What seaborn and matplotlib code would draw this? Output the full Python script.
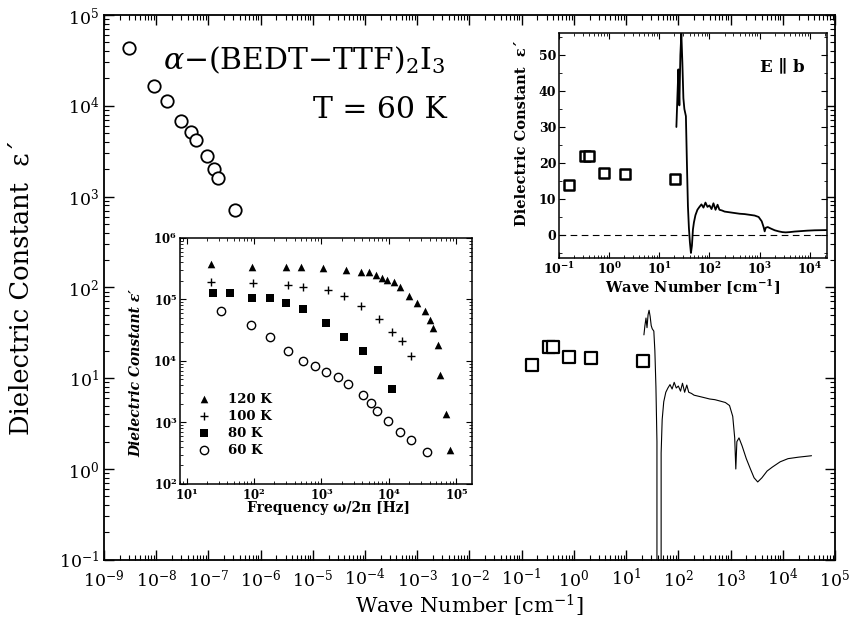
import numpy as np
import seaborn as sns
import matplotlib
matplotlib.use("Agg")
import matplotlib.pyplot as plt
from matplotlib.ticker import LogLocator, FuncFormatter, NullFormatter, MultipleLocator

#%% data
# main panel, T = 60 K: low-frequency data converted to wave number (open circles)
lowf_wn = [3.0e-9, 8.9e-9, 1.6e-8, 2.95e-8, 4.6e-8, 5.9e-8, 9.3e-8, 1.26e-7, 1.55e-7, 3.2e-7]
lowf_eps = [4.3e4, 1.66e4, 1.12e4, 6.8e3, 5.1e3, 4.2e3, 2.8e3, 2.0e3, 1.6e3, 710]

# millimetre / far-IR points (open squares)
mw_wn = [0.155, 0.33, 0.40, 0.79, 2.1, 21.0]
mw_eps = [14.0, 21.8, 21.8, 17.2, 16.9, 15.6]

# infrared spectrum (E || b)
ir_wn = [21.9, 22.9, 24.0, 25.1, 26.3, 27.5, 28.8, 30.2, 31.6, 33.9, 35.5, 37.2,
         38.9, 40.7, 42.7, 44.7, 46.8, 49.0, 52.5, 57.5, 63.1, 69.2, 75.9, 83.2,
         91.2, 100, 110, 120, 132, 145, 158, 178, 200, 251, 316, 398, 501, 631,
         794, 955, 1100, 1200, 1260, 1320, 1450, 1660, 2000, 2400, 2820, 3310,
         3980, 5010, 6310, 8910, 12600, 20000, 35500]
ir_eps = [30, 38, 46, 36, 50, 56, 48, 38, 35, 33, 20, 8,
          2, -2, -5, -3, 1.5, 3.5, 5.5, 7.0, 7.8, 8.5, 7.6, 9.0,
          7.8, 8.2, 7.2, 8.8, 7.0, 8.4, 7.0, 6.8, 6.5, 6.3, 6.1, 5.9, 5.8, 5.6,
          5.4, 5.0, 3.8, 2.2, 1.0, 2.0, 2.2, 1.8, 1.3, 1.0, 0.8, 0.72,
          0.8, 0.95, 1.05, 1.2, 1.3, 1.35, 1.4]

# inset: frequency dependence of eps' at several temperatures
f120 = [23, 95, 300, 500, 1070, 2340, 3800, 5100, 6500, 7900, 9500, 11700,
        14800, 20000, 26300, 34700, 40700, 45700, 52500, 56200, 69200, 81300]
e120 = [3.8e5, 3.4e5, 3.4e5, 3.4e5, 3.2e5, 3.0e5, 2.8e5, 2.75e5, 2.5e5, 2.25e5, 2.1e5, 1.95e5,
        1.6e5, 1.15e5, 8.7e4, 6.5e4, 4.6e4, 3.5e4, 1.8e4, 5.9e3, 1.35e3, 360]
f100 = [23, 98, 316, 525, 1230, 2140, 3890, 7240, 11000, 15500, 20900]
e100 = [1.95e5, 1.86e5, 1.7e5, 1.62e5, 1.41e5, 1.15e5, 7.8e4, 4.8e4, 3.0e4, 2.1e4, 1.2e4]
f80 = [25, 44, 95, 170, 300, 540, 1150, 2140, 4070, 6900, 11000]
e80 = [1.26e5, 1.26e5, 1.07e5, 1.05e5, 8.7e4, 6.9e4, 4.1e4, 2.5e4, 1.45e4, 7.1e3, 3.5e3]
f60 = [32, 91, 174, 324, 525, 794, 1170, 1780, 2450, 4070, 5500, 6760, 9770,
       14800, 21400, 36300]
e60 = [6.6e4, 3.8e4, 2.45e4, 1.45e4, 1.0e4, 8.3e3, 6.6e3, 5.4e3, 4.3e3, 2.8e3, 2.1e3,
       1.55e3, 1.07e3, 710, 510, 330]

#%% style
sns.set_theme(style="ticks")
plt.rcParams["font.family"] = ["DejaVu Serif", "DejaVu Sans"]
plt.rcParams["mathtext.fontset"] = "dejavuserif"
for k in ["axes.edgecolor", "text.color", "axes.labelcolor", "xtick.color", "ytick.color"]:
    plt.rcParams[k] = "black"


def bold_pow(v, pos):
    return r"$\mathbf{10^{%d}}$" % int(round(np.log10(v)))


def log_ticks(a, axis, numticks=30):
    ax_ = a.xaxis if axis == "x" else a.yaxis
    ax_.set_major_locator(LogLocator(base=10, numticks=numticks))
    ax_.set_minor_locator(LogLocator(base=10, subs=np.arange(2, 10), numticks=200))
    ax_.set_minor_formatter(NullFormatter())


fig = plt.figure(figsize=(8.53, 6.22), dpi=100)

#%% main panel
ax = fig.add_axes([0.1219, 0.1000, 0.8570, 0.8759])
sns.lineplot(x=ir_wn, y=ir_eps, estimator=None, sort=False, color="black",
             linewidth=0.8, ax=ax)
sns.scatterplot(x=lowf_wn, y=lowf_eps, marker="o", s=80, facecolor="white",
                edgecolor="black", linewidth=1.3, ax=ax, zorder=3)
sns.scatterplot(x=mw_wn, y=mw_eps, marker="s", s=80, facecolor="white",
                edgecolor="black", linewidth=1.6, ax=ax, zorder=3)
ax.set_xscale("log")
ax.set_yscale("log")
ax.set_xlim(1e-9, 1e5)
ax.set_ylim(1e-1, 1e5)
log_ticks(ax, "x")
log_ticks(ax, "y")
ax.tick_params(which="both", direction="in", top=True, right=True, labelsize=12.5)
ax.tick_params(axis="x", which="major", pad=6)
ax.tick_params(which="major", length=7, width=1)
ax.tick_params(which="minor", length=3.5, width=0.8)
for s in ax.spines.values():
    s.set_linewidth(1.3)
ax.set_xlabel("Wave Number [cm$^{-1}$]", fontsize=15)
ax.xaxis.set_label_coords(0.5, -0.06)
ax.set_ylabel("Dielectric Constant  ε´", fontsize=18.5)
ax.yaxis.set_label_coords(-0.097, 0.5)

fig.text(163 / 853, 1 - 60 / 622, r"$\alpha$−(BEDT−TTF)$_2$I$_3$",
         fontsize=21.5, ha="left", va="center")
fig.text(447 / 853, 1 - 110 / 622, "T = 60 K", fontsize=21.5, ha="right", va="center")

#%% inset: frequency dependence
ax1 = fig.add_axes([0.2110, 0.2219, 0.3423, 0.3955])
sns.scatterplot(x=f120, y=e120, marker="^", s=30, color="black", linewidth=0,
                ax=ax1, label="120 K")
sns.scatterplot(x=f100, y=e100, marker="+", s=40, color="black", linewidth=1.0,
                ax=ax1, label="100 K")
sns.scatterplot(x=f80, y=e80, marker="s", s=28, color="black", linewidth=0,
                ax=ax1, label="80 K")
sns.scatterplot(x=f60, y=e60, marker="o", s=36, facecolor="white",
                edgecolor="black", linewidth=1.0, ax=ax1, label="60 K")
ax1.set_xscale("log")
ax1.set_yscale("log")
ax1.set_xlim(8, 1.7e5)
ax1.set_ylim(1e2, 1e6)
log_ticks(ax1, "x")
log_ticks(ax1, "y")
ax1.xaxis.set_major_formatter(FuncFormatter(bold_pow))
ax1.yaxis.set_major_formatter(FuncFormatter(bold_pow))
ax1.tick_params(which="both", direction="in", top=True, right=True, labelsize=8.5, pad=2)
ax1.tick_params(which="major", length=4, width=0.8)
ax1.tick_params(which="minor", length=2, width=0.6)
for s in ax1.spines.values():
    s.set_linewidth(1.1)
ax1.set_xlabel("Frequency ω/2π [Hz]", fontsize=10, fontweight="bold")
ax1.xaxis.set_label_coords(0.51, -0.07)
ax1.set_ylabel("Dielectric Constant ε′", fontsize=10, fontweight="bold", style="italic")
ax1.yaxis.set_label_coords(-0.125, 0.45)
ax1.legend(loc="upper left", bbox_to_anchor=(0.06, 0.37), frameon=False,
           prop={"weight": "bold", "size": 9.5}, handlelength=1.0,
           handletextpad=1.3, labelspacing=0.3, borderaxespad=0, borderpad=0)

#%% inset: IR spectrum, linear scale
ax2 = fig.add_axes([0.6553, 0.5852, 0.3142, 0.3617])
ax2.axhline(0, color="black", linewidth=0.8, linestyle=(0, (6, 4)))
sns.lineplot(x=ir_wn, y=ir_eps, estimator=None, sort=False, color="black",
             linewidth=1.3, ax=ax2)
sns.scatterplot(x=mw_wn, y=mw_eps, marker="s", s=60, facecolor="white",
                edgecolor="black", linewidth=1.8, ax=ax2, zorder=3)
ax2.set_xscale("log")
ax2.set_xlim(0.1, 2.2e4)
ax2.set_ylim(-6.4, 56.1)
log_ticks(ax2, "x")
ax2.xaxis.set_major_formatter(FuncFormatter(bold_pow))
ax2.yaxis.set_major_locator(MultipleLocator(10))
ax2.yaxis.set_minor_locator(MultipleLocator(5))
ax2.tick_params(which="both", direction="in", top=True, right=True, labelsize=9, pad=2)
ax2.tick_params(which="major", length=4, width=0.8)
ax2.tick_params(which="minor", length=2, width=0.6)
for lab in ax2.get_yticklabels():
    lab.set_fontweight("bold")
for s in ax2.spines.values():
    s.set_linewidth(1.1)
ax2.set_xlabel(r"Wave Number [cm$^{\mathbf{-1}}$]", fontsize=10.5, fontweight="bold")
ax2.xaxis.set_label_coords(0.5, -0.09)
ax2.set_ylabel("Dielectric Constant  ε´", fontsize=10.5, fontweight="bold")
ax2.yaxis.set_label_coords(-0.112, 0.556)
ax2.text(0.835, 0.85, "E ∥ b", transform=ax2.transAxes, fontsize=12,
         fontweight="bold", ha="center", va="center")

fig.savefig("out.png", dpi=100)
